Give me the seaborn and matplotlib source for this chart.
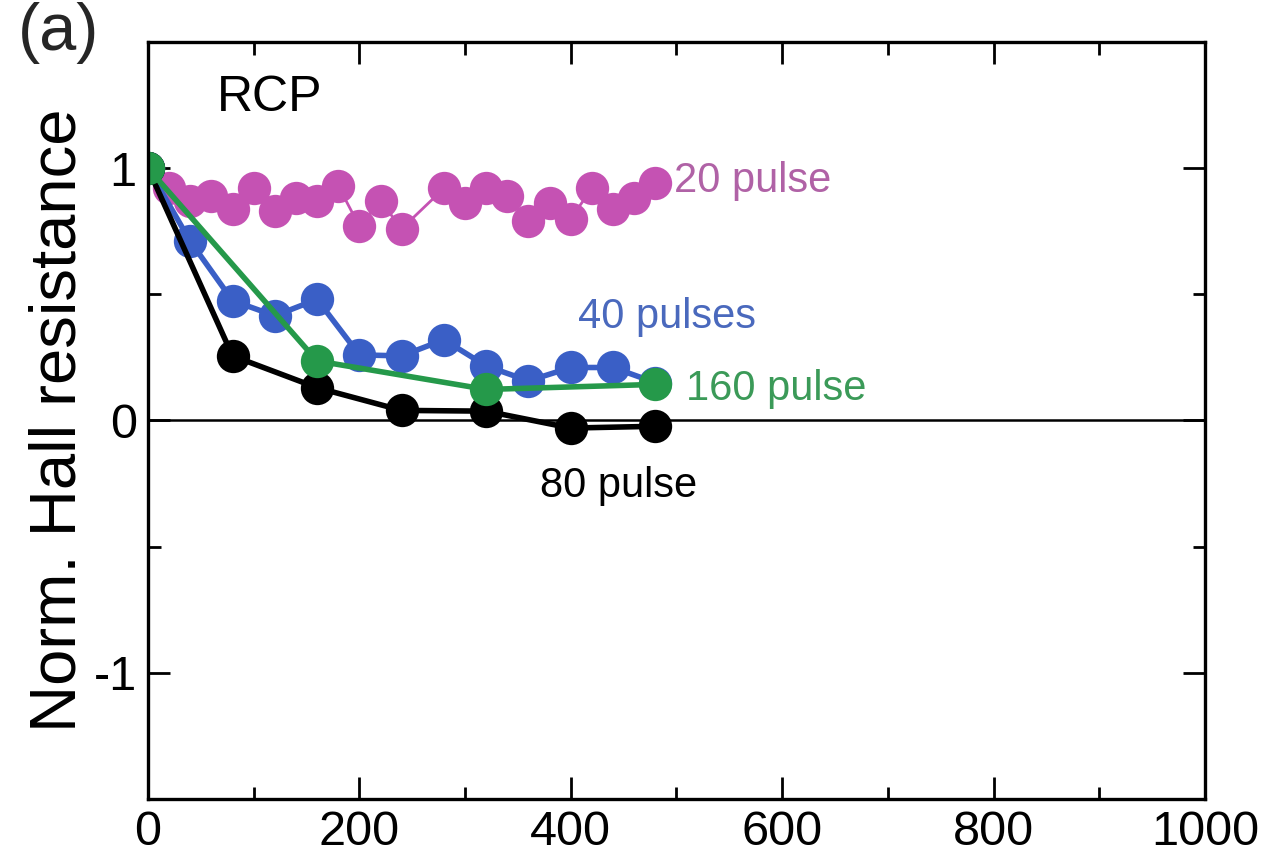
# Normalised Hall resistance vs time, RCP, for several pulse counts
import matplotlib
matplotlib.use("Agg")
import matplotlib.pyplot as plt
import seaborn as sns
import pandas as pd
from matplotlib.ticker import MultipleLocator

# Valeurs
x_20 = [0, 20, 40, 60, 80, 100, 120, 140, 160, 180, 200, 220, 240, 280, 300,
        320, 340, 360, 380, 400, 420, 440, 460, 480]
y_20 = [1.0, 0.92, 0.87, 0.89, 0.84, 0.92, 0.83, 0.88, 0.87, 0.93, 0.77, 0.87,
        0.76, 0.92, 0.86, 0.92, 0.89, 0.79, 0.86, 0.80, 0.92, 0.84, 0.88, 0.94]

x_40 = [0, 40, 80, 120, 160, 200, 240, 280, 320, 360, 400, 440, 480]
y_40 = [1.0, 0.71, 0.475, 0.415, 0.48, 0.26, 0.256, 0.32, 0.216, 0.157, 0.21,
        0.21, 0.15]

x_80 = [0, 80, 160, 240, 320, 400, 480]
y_80 = [1.0, 0.256, 0.13, 0.04, 0.037, -0.03, -0.023]

x_160 = [0, 160, 320, 480]
y_160 = [1.0, 0.236, 0.123, 0.143]

series = [
    ("20 pulse", x_20, y_20, "#c552b3", 2.0),
    ("40 pulses", x_40, y_40, "#3a5fc6", 4.0),
    ("80 pulse", x_80, y_80, "black", 4.0),
    ("160 pulse", x_160, y_160, "#25994a", 4.0),
]

sns.set_style("ticks")
plt.rcParams["font.family"] = ["Liberation Sans", "DejaVu Sans"]

fig = plt.figure(figsize=(12.68, 8.57), dpi=100)
ax = fig.add_axes([0.1167, 0.0677, 0.8336, 0.8833])

# ligne zero
ax.axhline(0, color="black", linewidth=1.8, zorder=1)

for name, xs, ys, col, lw in series:
    df = pd.DataFrame({"t": xs, "r": ys})
    sns.lineplot(data=df, x="t", y="r", ax=ax, color=col, linewidth=lw,
                 marker="o", markersize=24, markeredgewidth=0, sort=False)

# etiquettes des courbes
ax.text(498, 0.95, "20 pulse", color="#b062a6", fontsize=30, va="center")
ax.text(407, 0.41, "40 pulses", color="#4a69bd", fontsize=30, va="center")
ax.text(509, 0.125, "160 pulse", color="#3b9a58", fontsize=30, va="center")
ax.text(371, -0.26, "80 pulse", color="black", fontsize=30, va="center")
ax.text(65, 1.28, "RCP", color="black", fontsize=36, va="center")
fig.text(0.014, 0.962, "(a)", fontsize=48, va="center", ha="left")

ax.set_xlim(0, 1000)
ax.set_ylim(-1.5, 1.5)
ax.xaxis.set_major_locator(MultipleLocator(200))
ax.xaxis.set_minor_locator(MultipleLocator(100))
ax.yaxis.set_major_locator(MultipleLocator(1))
ax.yaxis.set_minor_locator(MultipleLocator(0.5))
ax.set_yticks([-1, 0, 1])
ax.set_yticklabels(["-1", "0", "1"])

ax.tick_params(which="both", direction="in", top=True, right=True,
               labelsize=35, width=2, pad=8, color="black", labelcolor="black")
ax.tick_params(which="major", length=16)
ax.tick_params(which="minor", length=9)
for sp in ax.spines.values():
    sp.set_linewidth(2.4)
    sp.set_color("black")

ax.set_xlabel("")
ax.set_ylabel("Norm. Hall resistance", fontsize=47, labelpad=4, color="black")

fig.savefig("out.png", dpi=100)
